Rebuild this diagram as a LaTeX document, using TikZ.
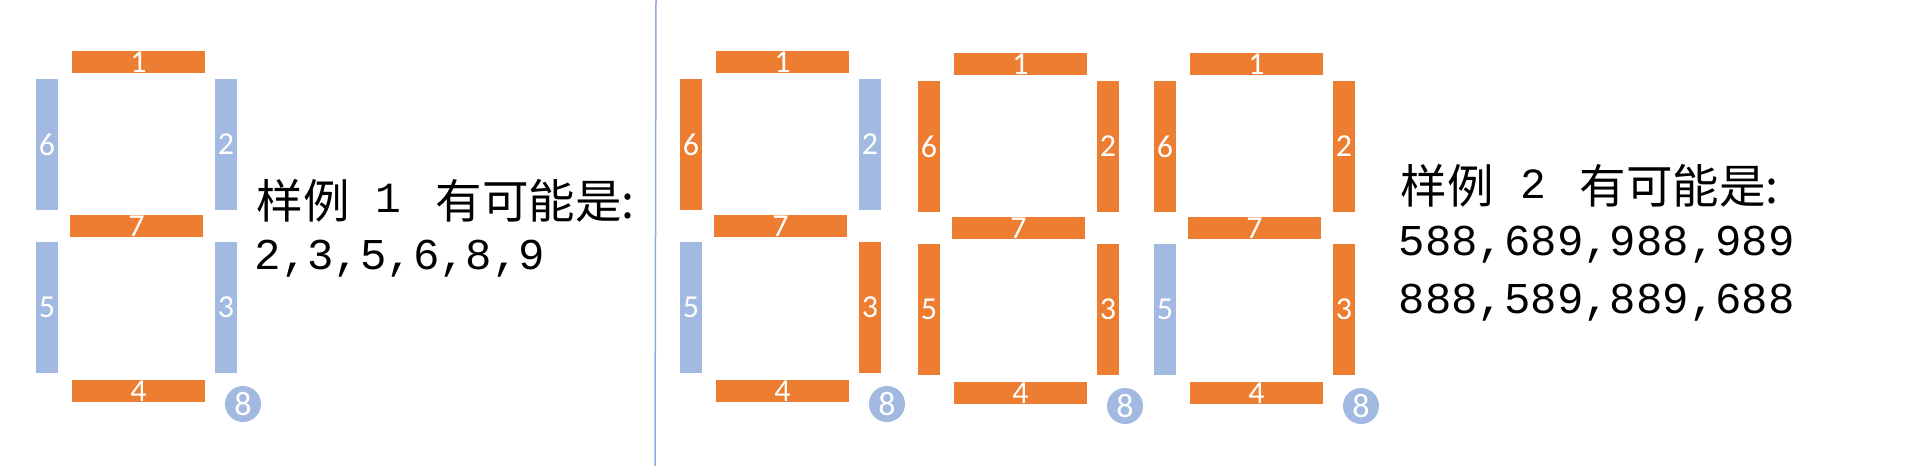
\documentclass[tikz,border=0pt]{standalone}
\usepackage{fontspec}
\setmainfont{Carlito}
\newfontfamily\cjk{Noto Sans CJK SC}
\newfontfamily\mono{Liberation Mono}
\definecolor{segor}{HTML}{ED7D31}
\definecolor{segbl}{HTML}{A2B9E1}
\definecolor{sepline}{HTML}{8FAADC}
\tikzset{
  seg/.style={inner sep=0pt, text=white, font=\fontsize{32}{32}\selectfont},
  hseg/.style={seg, minimum width=133pt, minimum height=22pt},
  vseg/.style={seg, minimum width=22pt, minimum height=131pt},
  dotlbl/.style={circle, fill=segbl, minimum size=36pt, inner sep=0pt, text=white, font=\fontsize{34}{34}\selectfont},
  cjkline/.style={anchor=base west, inner sep=0pt, font=\cjk\fontsize{46.5}{46.5}\selectfont},
  numline/.style={anchor=base west, inner sep=0pt, font=\mono\fontsize{44}{44}\selectfont},
  numsmall/.style={anchor=base, inner sep=0pt, font=\mono\fontsize{43}{43}\selectfont},
}
\newcommand\sevenseg[7]{%
  \begin{scope}[shift={(#2,#3)}]
    \node[hseg, fill=segor] (#1-1) at (138.5,62) {\raisebox{-1pt}{1}};
    \node[vseg, fill=#4] (#1-6) at (47,144.5) {6};
    \node[vseg, fill=#5] (#1-2) at (226,144.5) {2};
    \node[hseg, fill=segor] (#1-7) at (136.5,226) {\raisebox{-1pt}{7}};
    \node[vseg, fill=#6] (#1-5) at (47,307.5) {5};
    \node[vseg, fill=#7] (#1-3) at (226,307.5) {3};
    \node[hseg, fill=segor] (#1-4) at (138.5,391) {\raisebox{-1pt}{4}};
    \node[dotlbl] (#1-8) at (243,404) {8};
  \end{scope}}
\begin{document}
\begin{tikzpicture}[x=1pt,y=-1pt]
  \useasboundingbox[fill=white] (0,0) rectangle (1922,466);
  % separator
  \coordinate (septop) at (656,0);
  \coordinate (sepbot) at (655,466);
  \draw[sepline, line width=1.5pt] (septop) -- (sepbot);
  % digits
  \sevenseg{s}{0}{0}{segbl}{segbl}{segbl}{segbl}
  \sevenseg{a}{644}{0}{segor}{segbl}{segbl}{segor}
  \sevenseg{b}{882}{2}{segor}{segor}{segor}{segor}
  \sevenseg{c}{1118}{2}{segor}{segor}{segbl}{segor}
  % texts
  \node[cjkline] (t1a) at (256.5,218.4) {样例\hspace{86pt}有可能是:};
  \node[numsmall] (t1n) at (388.5,212) {1};
  \node[numline] (t1b) at (254.5,269) {2,3,5,6,8,9};
  \node[cjkline] (t2a) at (1400.5,203.4) {样例\hspace{86pt}有可能是:};
  \node[numsmall] (t2n) at (1533,198) {2};
  \node[numline] (t2b) at (1398.5,255) {588,689,988,989};
  \node[numline] (t2c) at (1398.5,313.3) {888,589,889,688};
\end{tikzpicture}
\end{document}
